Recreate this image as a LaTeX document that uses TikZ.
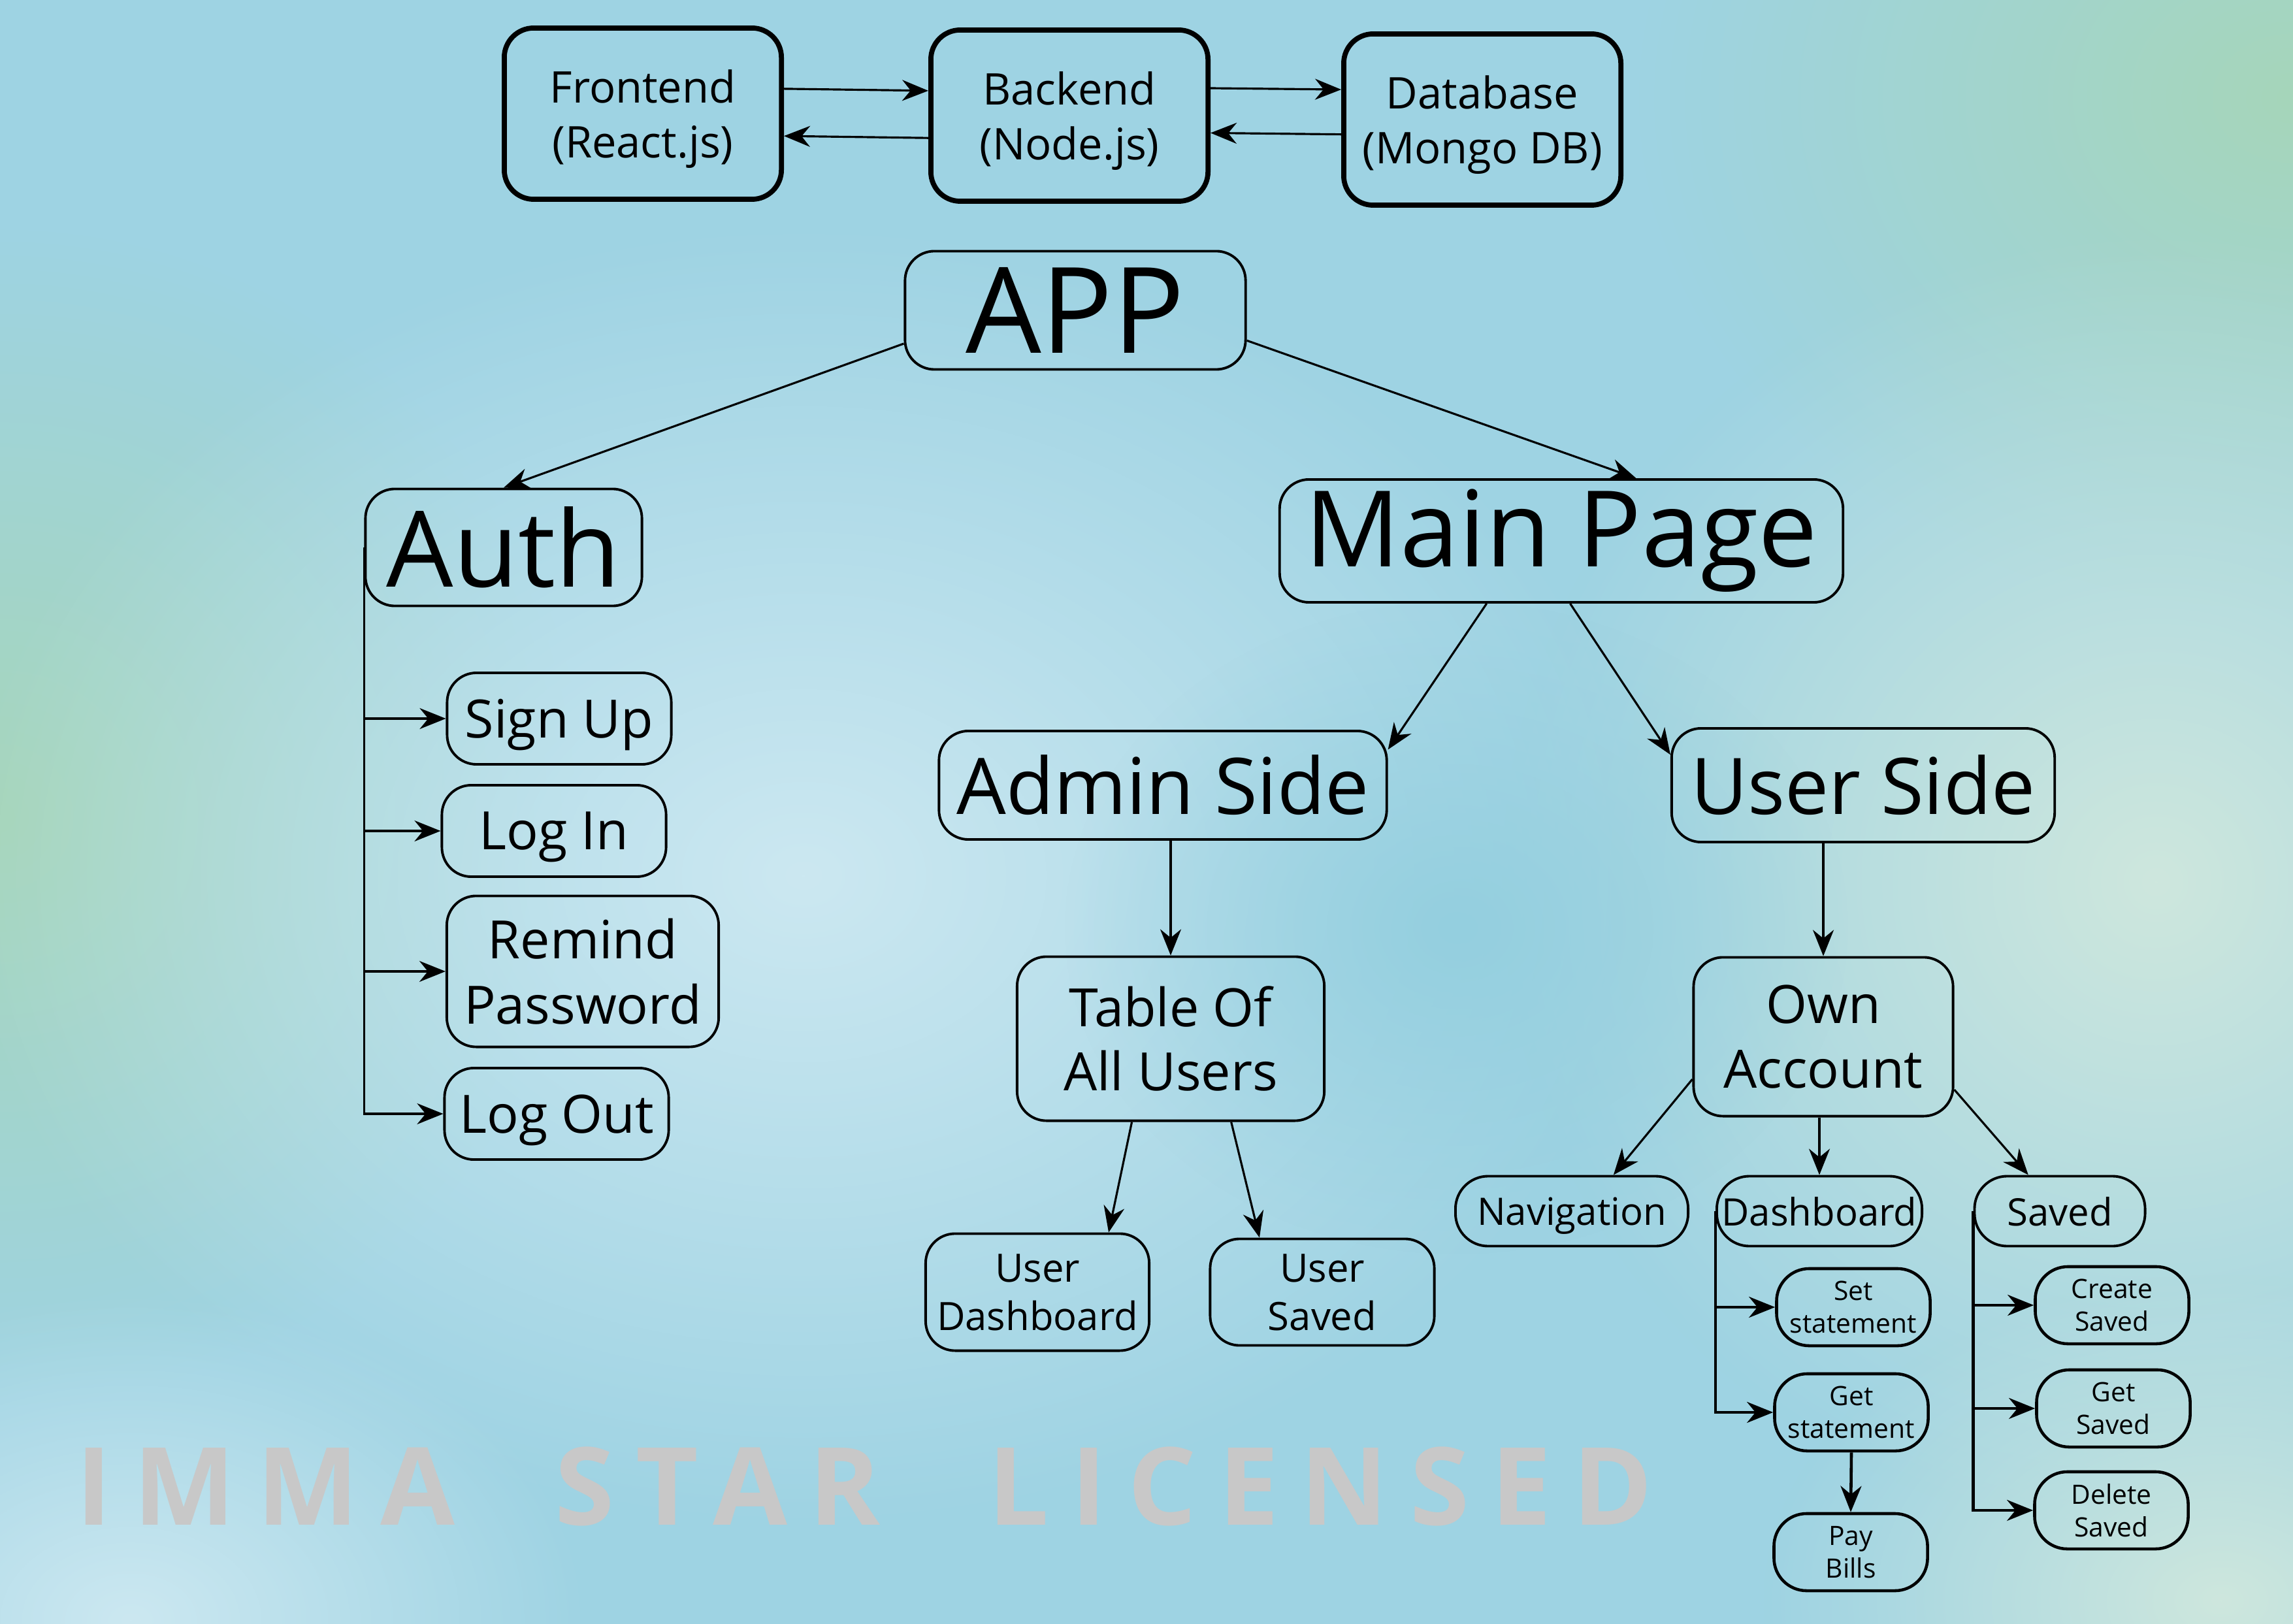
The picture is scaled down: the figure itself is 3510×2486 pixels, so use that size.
\documentclass[tikz,border=0pt]{standalone}
\usepackage{fontspec}
\setmainfont{Open Sans}
\usetikzlibrary{calc}
\usetikzlibrary{arrows.meta}
\usetikzlibrary{fadings}
\definecolor{bg-base}{RGB}{158,211,227}
\definecolor{bg-light}{RGB}{204,232,241}
\definecolor{bg-green}{RGB}{166,214,186}
\definecolor{bg-mint}{RGB}{206,231,221}
\definecolor{bg-deep}{RGB}{148,207,223}
\definecolor{stamp-gray}{RGB}{200,200,200}
\tikzfading[name=blob, inner color=transparent!0, outer color=transparent!100]
\newcommand{\sz}[2]{\fontsize{#1}{#2}\selectfont}
\tikzstyle{box}=[draw, line width=1.1pt, rounded corners=0.45cm, align=center, inner sep=0pt]
\tikzstyle{stackbox}=[box, line width=2.2pt, minimum width=4.24cm, minimum height=2.62cm, text depth=-2.8pt, font=\sz{19}{24}]
\tikzstyle{pill}=[box, rounded corners=0.5cm]
\tikzstyle{link}=[-{Stealth[length=4mm,width=3.2mm]}, line width=0.9pt]
\tikzstyle{branch}=[link, line width=1.3pt]
\tikzstyle{stamp}=[anchor=base west, inner sep=0pt, text=stamp-gray, font=\sz{47}{47}\bfseries\addfontfeature{LetterSpace=20}]
\newcommand{\drawtree}[4][link]{ % trunk runs down the left side of #2, the last child ends it
  \draw[#1] (#2.west) |- (#4.west);
  \foreach \c in {#3} {
    \draw[#1] (#2.west |- \c.west) -- (\c.west);
  }
}

\begin{document}
\begin{tikzpicture}[x=0.01cm, y=-0.01cm]
	\useasboundingbox (0,0) rectangle (3510,2486);
	% background wash
	\begin{scope}
	\clip (0,0) rectangle (3510,2486);
	\fill[bg-base] (0,0) rectangle (3510,2486);
	\fill[bg-green, path fading=blob] (0,1250) ellipse (900 and 900);
	\fill[bg-green, path fading=blob] (3510,150) ellipse (1000 and 800);
	\fill[bg-mint, path fading=blob] (3300,1350) ellipse (1000 and 1000);
	\fill[bg-light, path fading=blob] (1230,1340) ellipse (1300 and 1000);
	\fill[bg-deep, path fading=blob] (2230,1420) ellipse (600 and 500);
	\fill[bg-light, path fading=blob] (200,2480) ellipse (700 and 500);
	\fill[bg-mint, path fading=blob] (3400,2450) ellipse (700 and 500);
	\end{scope}
	% watermark
	\node[stamp] (w1) at (116,2334) {IMMA};
	\node[stamp] (w2) at (849,2334) {STAR};
	\node[stamp] (w3) at (1512,2334) {LICENSED};
	% stack
	\node[stackbox] (front) at (984,174) {Frontend\\(React.js)};
	\node[stackbox] (back) at (1637,177) {Backend\\(Node.js)};
	\node[stackbox] (db) at (2269,183) {Database\\(Mongo DB)};
	\draw[link] (front.10) -- (back.170);
	\draw[link] (back.189) -- (front.351);
	\draw[link] (back.11) -- (db.168);
	\draw[link] (db.186) -- (back.353);
	% main levels
	\node[box, minimum width=5.21cm, minimum height=1.81cm, font=\sz{52}{60}] (app) at (1646,475) {APP};
	\node[box, minimum width=4.23cm, minimum height=1.79cm, font=\sz{46}{52}] (auth) at (771,838) {Auth};
	\node[box, minimum width=8.62cm, minimum height=1.88cm, font=\sz{46}{52}] (mainpage) at (2390,828) {Main Page};
	\node[box, minimum width=6.85cm, minimum height=1.66cm, font=\sz{34}{40}] (adminside) at (1780,1202) {Admin Side};
	\node[box, minimum width=5.86cm, minimum height=1.74cm, font=\sz{34}{40}] (userside) at (2852,1202) {User Side};
	\draw[link] (app.191) -- (auth.north);
	\draw[link] (app.350) -- (mainpage.40);
	\draw[link] (mainpage.220) -- (adminside.9);
	\draw[link] (mainpage.278) -- (userside.171);
	% auth side
	\begin{scope}[every node/.style={box, minimum width=3.43cm, minimum height=1.4cm, text depth=0pt, font=\sz{23}{28.5}}]
		\node (signup) at (856,1100) {Sign Up};
		\node (login) at (848,1272) {Log In};
		\node[minimum width=4.16cm, minimum height=2.31cm] (remind) at (892,1487) {Remind\\Password};
		\node (logout) at (852,1705) {Log Out};
	\end{scope}
	\drawtree{auth}{signup,login,remind}{logout}
	% admin side
	\node[box, minimum width=4.7cm, minimum height=2.51cm, font=\sz{23}{28}] (table) at (1792,1590) {Table Of\\All Users};
	\node[box, minimum width=3.42cm, minimum height=1.79cm, text depth=-9pt, font=\sz{17}{21}] (udash) at (1588,1978) {User\\Dashboard};
	\node[box, minimum width=3.43cm, minimum height=1.63cm, text depth=-9pt, font=\sz{17}{21}] (usaved) at (2024,1978) {User\\Saved};
	\draw[link] (table.north |- adminside.south) -- (table.north);
	\draw[link] (table.245) -- (udash.40);
	\draw[link] (table.306) -- (usaved.139);
	% user side
	\node[box, minimum width=3.97cm, minimum height=2.43cm, font=\sz{23}{28}] (ownacc) at (2791,1587) {Own\\Account};
	\begin{scope}[every node/.style={pill, minimum height=1.07cm, text depth=0pt, font=\sz{16.5}{20}}]
		\node[minimum width=3.56cm] (nav) at (2406,1854) {Navigation};
		\node[minimum width=3.14cm] (dash) at (2785,1854) {Dashboard};
		\node[minimum width=2.61cm] (saved) at (3153,1854) {Saved};
	\end{scope}
	\draw[link] (ownacc.north |- userside.south) -- (ownacc.north);
	\draw[link] (ownacc.198) -- (nav.41);
	\draw[link] (dash.north |- ownacc.south) -- (dash.north);
	\draw[link] (ownacc.338) -- (saved.131);
	% leaves
	\begin{scope}[every node/.style={pill, line width=1.3pt, minimum width=2.35cm, minimum height=1.18cm, font=\sz{11.6}{14.3}}]
		\node (setst) at (2837,2001) {Set\\statement};
		\node (getst) at (2834,2162) {Get\\statement};
		\node (paybills) at (2833,2376) {Pay\\Bills};
		\node (create) at (3233,1998) {Create\\Saved};
		\node (getsaved) at (3235,2156) {Get\\Saved};
		\node (delsaved) at (3232,2312) {Delete\\Saved};
	\end{scope}
	\drawtree[branch]{dash}{setst}{getst}
	\drawtree[branch]{saved}{create,getsaved}{delsaved}
	\draw[branch] (getst.south) -- (paybills.north);
\end{tikzpicture}
\end{document}
